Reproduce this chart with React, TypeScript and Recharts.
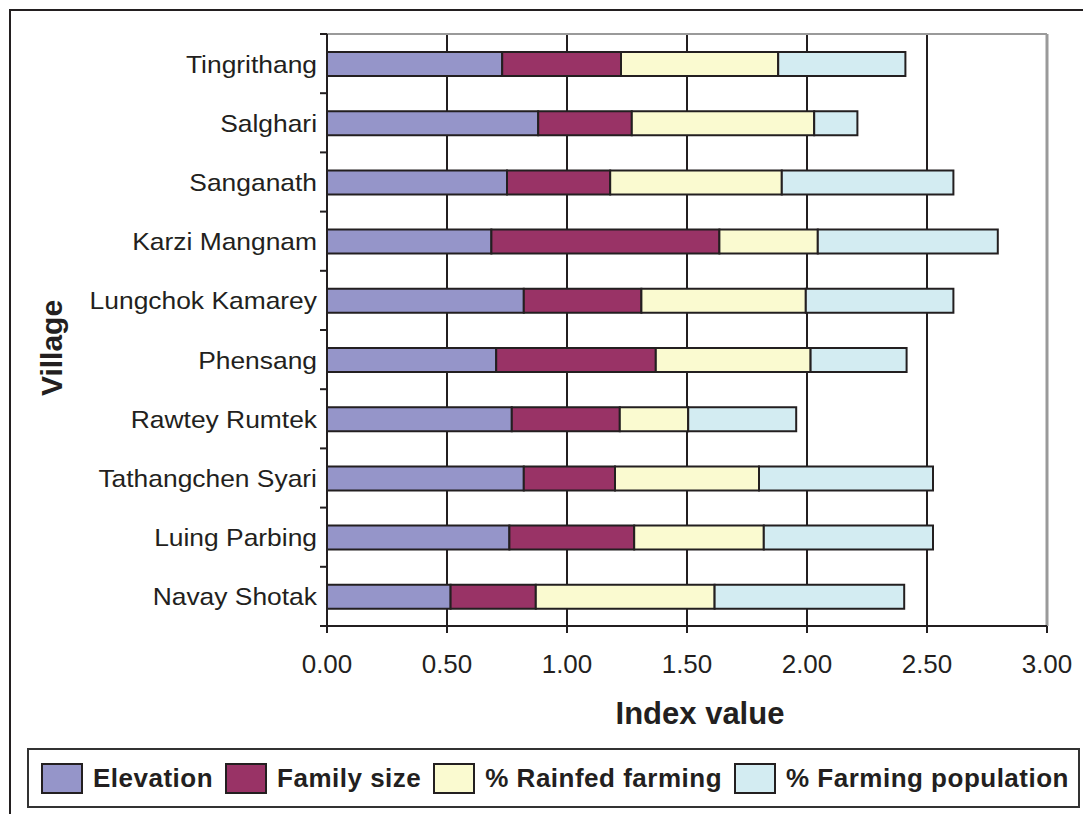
import React from 'react'
import { BarChart, Bar, XAxis, YAxis, CartesianGrid, ReferenceLine } from 'recharts'

// villages, top to bottom as drawn
const villages = [
    'Tingrithang',
    'Salghari',
    'Sanganath',
    'Karzi Mangnam',
    'Lungchok Kamarey',
    'Phensang',
    'Rawtey Rumtek',
    'Tathangchen Syari',
    'Luing Parbing',
    'Navay Shotak',
]
const elevation = [0.73, 0.88, 0.75, 0.685, 0.82, 0.705, 0.77, 0.82, 0.76, 0.515]
const familySize = [0.495, 0.39, 0.43, 0.95, 0.49, 0.665, 0.45, 0.38, 0.52, 0.355]
const rainfedFarming = [0.655, 0.76, 0.715, 0.41, 0.685, 0.645, 0.285, 0.6, 0.54, 0.745]
const farmingPopulation = [0.53, 0.18, 0.715, 0.75, 0.615, 0.4, 0.45, 0.725, 0.705, 0.79]
const xTicks = [0, 0.5, 1, 1.5, 2, 2.5, 3]

const SERIES = [
    { key: 'elevation', label: 'Elevation', color: '#9595c9' },
    { key: 'family', label: 'Family size', color: '#993366' },
    { key: 'rainfed', label: '% Rainfed farming', color: '#fafad0' },
    { key: 'farming', label: '% Farming population', color: '#d3ecf2' },
]

const INK = '#231f20'
const FONT = '"Liberation Sans", Arial, sans-serif'
const PLOT_LEFT = 327
const PLOT_TOP = 34
const PLOT_BOTTOM = 626
const BAND = (PLOT_BOTTOM - PLOT_TOP) / villages.length

const data = villages.map((name, i) => ({
    name,
    elevation: elevation[i],
    family: familySize[i],
    rainfed: rainfedFarming[i],
    farming: farmingPopulation[i],
}))

function VillageTick(props: any) {
    const { y, payload, index } = props
    const last = index === villages.length - 1
    return (
        <g>
            <line x1={PLOT_LEFT - 7} x2={PLOT_LEFT} y1={y - BAND / 2} y2={y - BAND / 2} stroke={INK} strokeWidth={2} />
            {last && <line x1={PLOT_LEFT - 7} x2={PLOT_LEFT} y1={y + BAND / 2} y2={y + BAND / 2} stroke={INK} strokeWidth={2} />}
            <g transform={`translate(${PLOT_LEFT - 10},${y + 9}) scale(1.1,1)`}>
                <text x={0} y={0} textAnchor="end" fontSize={24} fontFamily={FONT} fill={INK}>
                    {payload.value}
                </text>
            </g>
        </g>
    )
}

function IndexTick(props: any) {
    const { x, payload } = props
    return (
        <text x={x} y={PLOT_BOTTOM + 47} textAnchor="middle" fontSize={26} fontFamily={FONT} fill={INK}>
            {Number(payload.value).toFixed(2)}
        </text>
    )
}

export default function App() {
    return (
        <div style={{ position: 'absolute', left: 0, top: 0, width: 1083, height: 814, background: '#fff', fontFamily: FONT }}>
            {/* outer frame, only top and left edges show */}
            <div style={{ position: 'absolute', left: 9, top: 9, width: 1074, height: 805, borderTop: `2px solid ${INK}`, borderLeft: `2px solid ${INK}` }} />

            <div style={{ position: 'absolute', left: 0, top: 0 }}>
                <BarChart
                    width={1083}
                    height={814}
                    data={data}
                    layout="vertical"
                    margin={{ top: PLOT_TOP, right: 36, bottom: 128, left: 0 }}
                    barCategoryGap={0}
                >
                    <CartesianGrid horizontal={false} stroke={INK} strokeWidth={2} />
                    <CartesianGrid
                        vertical={false}
                        stroke="#9a9a9a"
                        strokeWidth={2}
                        horizontalCoordinatesGenerator={({ offset }: any) => [offset.top]}
                    />
                    <XAxis
                        type="number"
                        domain={[0, 3]}
                        ticks={xTicks}
                        interval={0}
                        height={60}
                        axisLine={{ stroke: INK, strokeWidth: 2 }}
                        tickLine={{ stroke: INK, strokeWidth: 2 }}
                        tickSize={7}
                        tick={<IndexTick />}
                    />
                    <YAxis
                        type="category"
                        dataKey="name"
                        width={PLOT_LEFT}
                        interval={0}
                        axisLine={{ stroke: INK, strokeWidth: 2 }}
                        tickLine={false}
                        tick={<VillageTick />}
                    />
                    {SERIES.map(s => (
                        <Bar
                            key={s.key}
                            dataKey={s.key}
                            stackId="a"
                            fill={s.color}
                            stroke={INK}
                            strokeWidth={2}
                            barSize={24}
                            isAnimationActive={false}
                        />
                    ))}
                    <ReferenceLine x={3} stroke="#9a9a9a" strokeWidth={3} />
                </BarChart>
            </div>

            {/* axis titles */}
            <div style={{ position: 'absolute', left: 560, top: 694, width: 280, textAlign: 'center', fontSize: 31, fontWeight: 'bold', color: INK, lineHeight: '40px' }}>
                Index value
            </div>
            <div
                style={{
                    position: 'absolute',
                    left: 52,
                    top: 348,
                    transform: 'translate(-50%,-50%) rotate(-90deg)',
                    fontSize: 30,
                    fontWeight: 'bold',
                    color: INK,
                    lineHeight: '36px',
                    whiteSpace: 'nowrap',
                }}
            >
                Village
            </div>

            {/* legend */}
            <div
                style={{
                    position: 'absolute',
                    left: 27,
                    top: 748,
                    width: 1053,
                    height: 60,
                    boxSizing: 'border-box',
                    border: '2px solid #333',
                    display: 'flex',
                    alignItems: 'center',
                    justifyContent: 'space-between',
                    paddingLeft: 12,
                    paddingRight: 9,
                }}
            >
                {SERIES.map(s => (
                    <div key={s.key} style={{ display: 'flex', alignItems: 'center' }}>
                        <div style={{ width: 42, height: 31, background: s.color, border: `2px solid ${INK}`, boxSizing: 'border-box', marginRight: 10 }} />
                        <span style={{ fontSize: 26, letterSpacing: 0.5, fontWeight: 'bold', color: INK, whiteSpace: 'nowrap' }}>{s.label}</span>
                    </div>
                ))}
            </div>
        </div>
    )
}
